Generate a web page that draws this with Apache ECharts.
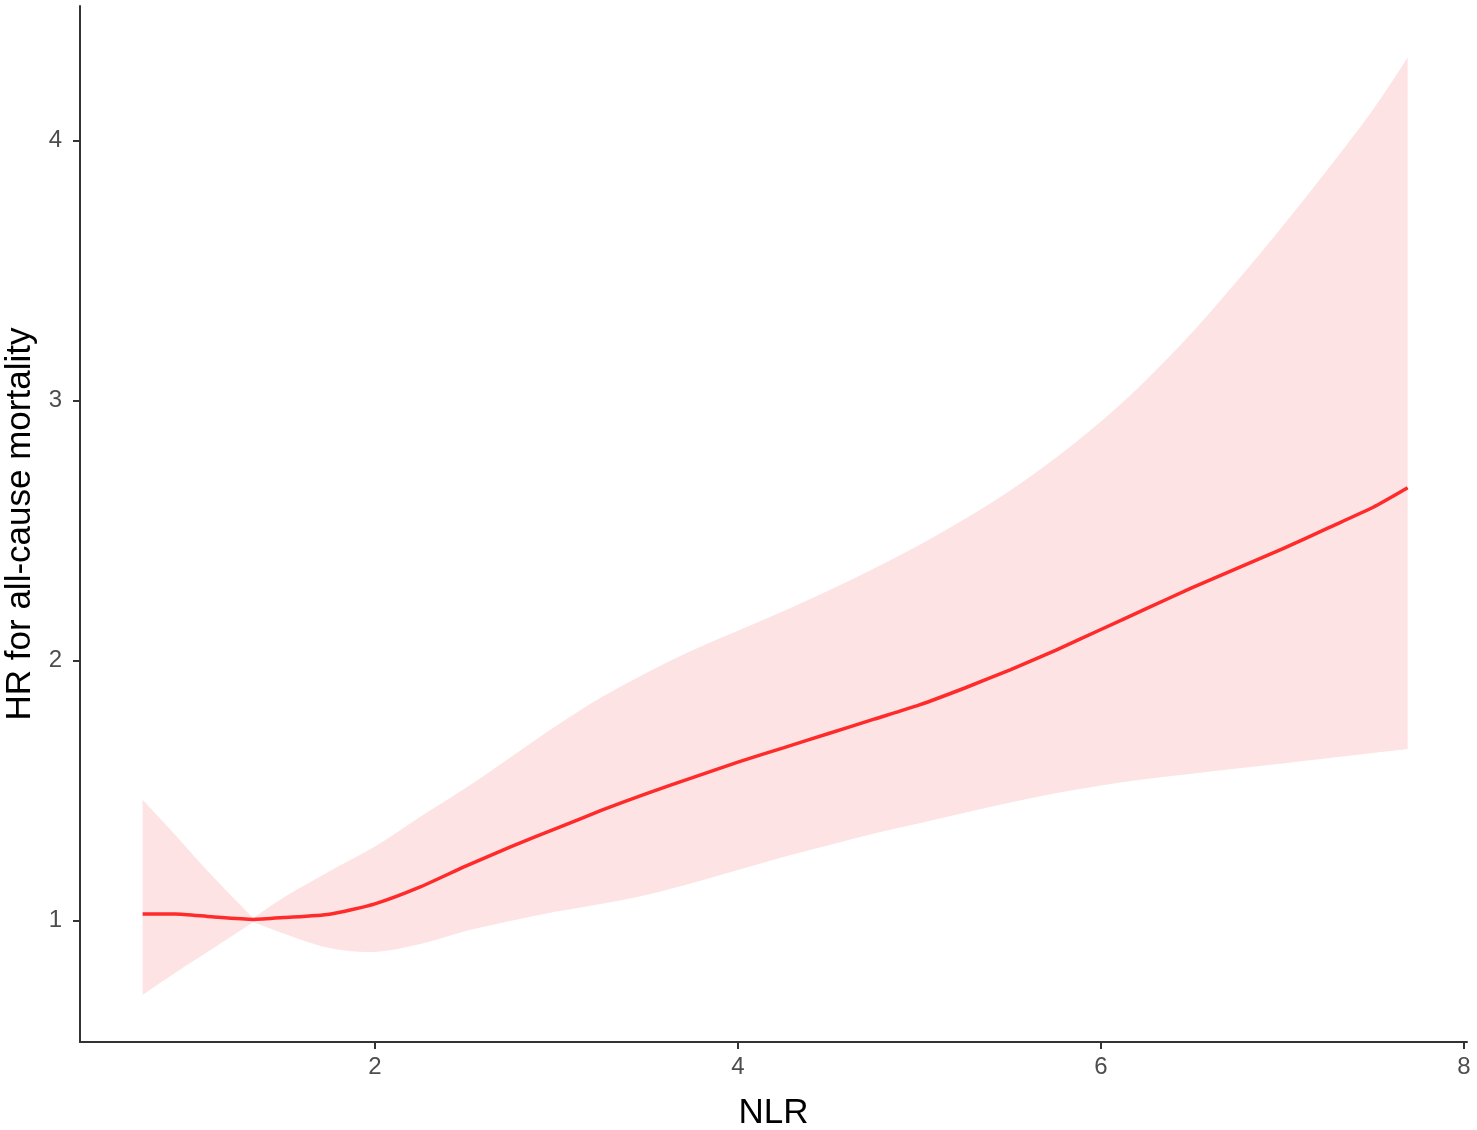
<!DOCTYPE html>
<html>
<head>
<meta charset="utf-8">
<script src="https://cdn.jsdelivr.net/npm/echarts@6/dist/echarts.min.js"></script>
<style>
html,body{margin:0;padding:0;background:#fff;}
#chart{width:1477px;height:1130px;}
</style>
</head>
<body>
<div id="chart"></div>
<script>
// NLR values (x)
const nlr = [0.72, 0.9, 1.1, 1.33, 1.5, 1.75, 2.0, 2.25, 2.5, 2.75, 3.0, 3.25, 3.5, 3.75, 4.0, 4.25, 4.5, 4.75, 5.0, 5.25, 5.5, 5.75, 6.0, 6.25, 6.5, 6.75, 7.0, 7.25, 7.5, 7.69];
// Hazard ratio estimate
const hr = [1.026, 1.026, 1.015, 1.005, 1.012, 1.025, 1.065, 1.13, 1.21, 1.285, 1.355, 1.425, 1.49, 1.55, 1.61, 1.665, 1.72, 1.775, 1.83, 1.895, 1.965, 2.04, 2.12, 2.2, 2.28, 2.355, 2.43, 2.51, 2.59, 2.665];
// 95% CI lower bound
const lower = [0.715, 0.80, 0.89, 0.995, 0.95, 0.895, 0.88, 0.91, 0.96, 1.0, 1.035, 1.065, 1.10, 1.145, 1.195, 1.245, 1.29, 1.335, 1.375, 1.415, 1.455, 1.49, 1.52, 1.545, 1.565, 1.585, 1.605, 1.625, 1.645, 1.66];
// 95% CI upper bound
const upper = [1.465, 1.33, 1.175, 1.01, 1.09, 1.19, 1.285, 1.40, 1.51, 1.63, 1.75, 1.86, 1.955, 2.04, 2.115, 2.19, 2.27, 2.355, 2.445, 2.545, 2.655, 2.78, 2.92, 3.08, 3.26, 3.46, 3.67, 3.89, 4.12, 4.32];
// index where the confidence band pinches (reference point)
const pinchIndex = 3;
// tick labels
const xTicks = [2, 4, 6, 8];
const yTicks = [1, 2, 3, 4];

const hrData = nlr.map((x, i) => [x, hr[i]]);
const bandData = nlr.map((x, i) => [x, lower[i], upper[i]]);

const chart = echarts.init(document.getElementById('chart'), null, {renderer: 'canvas'});
const axisColor = '#333333';
const labelColor = '#4D4D4D';
const font = 'Liberation Sans, Arial, sans-serif';

// Catmull-Rom spline through pixel points -> path commands (no initial move)
function splineSeg(pts) {
  let d = '';
  for (let i = 0; i < pts.length - 1; i++) {
    const p0 = pts[i - 1] || pts[i];
    const p1 = pts[i];
    const p2 = pts[i + 1];
    const p3 = pts[i + 2] || p2;
    const c1x = p1[0] + (p2[0] - p0[0]) / 6, c1y = p1[1] + (p2[1] - p0[1]) / 6;
    const c2x = p2[0] - (p3[0] - p1[0]) / 6, c2y = p2[1] - (p3[1] - p1[1]) / 6;
    d += 'C' + c1x + ' ' + c1y + ' ' + c2x + ' ' + c2y + ' ' + p2[0] + ' ' + p2[1];
  }
  return d;
}
function splineBroken(pts, k) {
  return splineSeg(pts.slice(0, k + 1)) + splineSeg(pts.slice(k));
}

function renderBand(params, api) {
  if (params.dataIndex !== 0) return null;
  const top = [], bottom = [];
  for (let i = 0; i < bandData.length; i++) {
    top.push(api.coord([bandData[i][0], bandData[i][2]]));
    bottom.push(api.coord([bandData[i][0], bandData[i][1]]));
  }
  const n = top.length;
  const bottomRev = bottom.slice().reverse();
  let d = 'M' + top[0][0] + ' ' + top[0][1];
  d += splineBroken(top, pinchIndex);
  d += 'L' + bottomRev[0][0] + ' ' + bottomRev[0][1];
  d += splineBroken(bottomRev, n - 1 - pinchIndex);
  d += 'Z';
  return {
    type: 'path',
    shape: {pathData: d},
    style: {fill: '#FDE3E4', stroke: null},
    silent: true
  };
}

chart.setOption({
  animation: false,
  backgroundColor: '#ffffff',
  grid: {left: 80, right: 10, top: 6, bottom: 88, containLabel: false, outerBoundsMode: 'none'},
  xAxis: {
    type: 'value',
    min: 0.375,
    max: 8.017,
    name: 'NLR',
    nameLocation: 'middle',
    nameGap: 54,
    nameTextStyle: {color: '#000', fontSize: 35, fontFamily: font},
    axisLine: {show: true, lineStyle: {color: axisColor, width: 2}},
    axisTick: {show: true, length: 7, lineStyle: {color: axisColor, width: 2}, customValues: xTicks},
    axisLabel: {color: labelColor, fontSize: 24, fontFamily: font, margin: 13, customValues: xTicks},
    splitLine: {show: false}
  },
  yAxis: {
    type: 'value',
    min: 0.5335,
    max: 4.518,
    name: 'HR for all-cause mortality',
    nameLocation: 'middle',
    nameGap: 34,
    nameRotate: 90,
    nameTextStyle: {color: '#000', fontSize: 35, fontFamily: font},
    axisLine: {show: true, lineStyle: {color: axisColor, width: 2}},
    axisTick: {show: true, length: 7, lineStyle: {color: axisColor, width: 2}, customValues: yTicks},
    axisLabel: {color: labelColor, fontSize: 24, fontFamily: font, margin: 18, customValues: yTicks},
    splitLine: {show: false}
  },
  series: [
    {
      type: 'custom', name: 'CI', data: bandData,
      encode: {x: 0, y: [1, 2]},
      renderItem: renderBand,
      silent: true, z: 1
    },
    {
      type: 'line', name: 'HR', data: hrData,
      symbol: 'none', smooth: 0.2,
      lineStyle: {color: '#FF2B2B', width: 3.5},
      z: 3
    }
  ]
});
</script>
</body>
</html>
